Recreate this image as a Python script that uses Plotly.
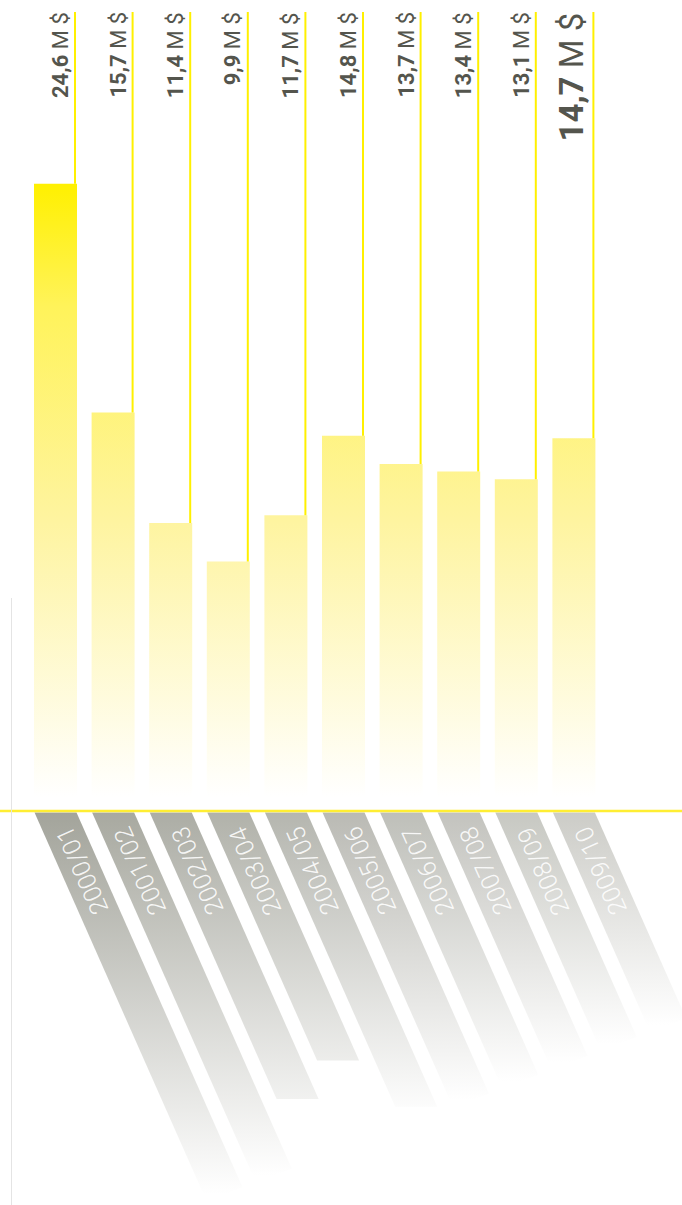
import plotly.graph_objects as go

# ---------------- data ----------------
seasons = ["2000/01", "2001/02", "2002/03", "2003/04", "2004/05",
           "2005/06", "2006/07", "2007/08", "2008/09", "2009/10"]
values = [24.6, 15.7, 11.4, 9.9, 11.7, 14.8, 13.7, 13.4, 13.1, 14.7]
unit = "M $"

# ---------------- layout constants (pixels) ----------------
W, H = 682, 1205
X0_PX, PITCH_PX = 55.5, 57.6        # centre of first bar, distance between bars
BASE_PX, PX_PER_UNIT = 816.0, 25.7  # value 0 position, scale
BAR_W_PX = 43.0
BAND_W_PX = 42.0
HORIZON_PX = 811.0                  # yellow horizontal line
SHEAR = 0.443                       # reflection shear (dx per dy)
CLIP_K, CLIP_C = 0.381, 1279.7      # fade line: y + k*x = C
LINE_TOP_PX = 12.0
FADE_PX = 797.0


def px_to_x(px):
    return (px - X0_PX) / PITCH_PX


def py_to_y(py):
    return (BASE_PX - py) / PX_PER_UNIT


def y_to_py(y):
    return BASE_PX - y * PX_PER_UNIT


def clip_halfplane(poly):
    """keep part of polygon with y + k x <= C (pixel space)"""
    def f(p):
        return p[1] + CLIP_K * p[0] - CLIP_C
    out = []
    n = len(poly)
    for j in range(n):
        a, b = poly[j], poly[(j + 1) % n]
        fa, fb = f(a), f(b)
        if fa <= 0:
            out.append(a)
        if (fa <= 0) != (fb <= 0):
            t = fa / (fa - fb)
            out.append((a[0] + t * (b[0] - a[0]), a[1] + t * (b[1] - a[1])))
    return out


fig = go.Figure()

bar_half = BAR_W_PX / 2 / PITCH_PX
vmax = max(values)

# ---------------- yellow bars ----------------
for i, v in enumerate(values):
    fig.add_trace(go.Scatter(
        x=[i - bar_half, i + bar_half, i + bar_half, i - bar_half, i - bar_half],
        y=[0, 0, v, v, 0],
        mode="none", fill="toself", hoverinfo="skip",
        fillgradient=dict(type="vertical",
                          colorscale=[[0, "#ffffff"], [0.45, "#fef4a0"],
                                      [0.8, "#fff35a"], [1, "#fff000"]],
                          start=py_to_y(FADE_PX), stop=vmax),
    ))

# ---------------- vertical yellow rules ----------------
lx, ly = [], []
for i, v in enumerate(values):
    xl = i + 19.5 / PITCH_PX
    lx += [xl, xl, None]
    ly += [py_to_y(LINE_TOP_PX), v, None]
fig.add_trace(go.Scatter(x=lx, y=ly, mode="lines", hoverinfo="skip",
                         line=dict(color="#fff000", width=2)))

# ---------------- sheared reflections ----------------
base_rgb = (163, 164, 155)
d_ref = X0_PX * CLIP_K + (HORIZON_PX + 1) - CLIP_C
for i, v in enumerate(values):
    c = X0_PX + PITCH_PX * i
    top = HORIZON_PX + 1.5
    bar_top_px = y_to_py(v)
    end = 2 * HORIZON_PX - bar_top_px
    t = end - top
    xl, xr = c - BAND_W_PX / 2, c + BAND_W_PX / 2
    poly = [(xl, top), (xr, top), (xr + SHEAR * t, end), (xl + SHEAR * t, end)]
    poly = clip_halfplane(poly)
    xs = [px_to_x(p[0]) for p in poly] + [px_to_x(poly[0][0])]
    ys = [py_to_y(p[1]) for p in poly] + [py_to_y(poly[0][1])]
    f0 = top + CLIP_K * c - CLIP_C
    a = f0 / d_ref
    col = "rgb(%d,%d,%d)" % tuple(round(255 + a * (b - 255)) for b in base_rgb)
    tclip = -f0 / (1 + CLIP_K * SHEAR)
    fig.add_trace(go.Scatter(
        x=xs, y=ys, mode="none", fill="toself", hoverinfo="skip",
        fillgradient=dict(type="vertical",
                          colorscale=[[0, "#ffffff"], [1, col]],
                          start=py_to_y(top + tclip), stop=py_to_y(top)),
    ))

# ---------------- annotations ----------------
ann = []
for i, v in enumerate(values):
    big = i == len(values) - 1
    num = ("%.1f" % v).replace(".", ",")
    ann.append(dict(
        x=i + (19.0 if not big else 19.5) / PITCH_PX, y=py_to_y(10),
        xref="x", yref="y",
        xanchor="right", yanchor="top", textangle=-90, showarrow=False,
        text="<b>%s</b> %s" % (num, unit),
        font=dict(family="Roboto, Liberation Sans, sans-serif",
                  size=33 if big else 22, color="#54554d"),
    ))
    # season label on reflection
    cy = 871
    cx = X0_PX + PITCH_PX * i + SHEAR * (cy - HORIZON_PX)
    ann.append(dict(
        x=px_to_x(cx), y=py_to_y(cy), xref="x", yref="y",
        xanchor="center", yanchor="middle", textangle=-113.9, showarrow=False,
        text=seasons[i],
        font=dict(family="Roboto, Liberation Sans, sans-serif", size=25,
                  color="rgba(255,255,255,0.9)", weight=300),
    ))

shapes = [
    dict(type="line", xref="paper", yref="y", x0=0, x1=1,
         y0=py_to_y(HORIZON_PX), y1=py_to_y(HORIZON_PX),
         line=dict(color="#ffee33", width=2.5)),
    dict(type="line", xref="x", yref="y", x0=px_to_x(11.5), x1=px_to_x(11.5),
         y0=py_to_y(598), y1=py_to_y(H), line=dict(color="#e4e4e4", width=1)),
]

fig.update_layout(
    width=W, height=H, autosize=False,
    margin=dict(l=0, r=0, t=0, b=0, pad=0),
    paper_bgcolor="white", plot_bgcolor="white",
    showlegend=False,
    xaxis=dict(visible=False, range=[px_to_x(0), px_to_x(W)], fixedrange=True),
    yaxis=dict(visible=False, range=[py_to_y(H), py_to_y(0)], fixedrange=True),
    annotations=ann, shapes=shapes,
)

fig.write_html("out.html", config={"displayModeBar": False})
